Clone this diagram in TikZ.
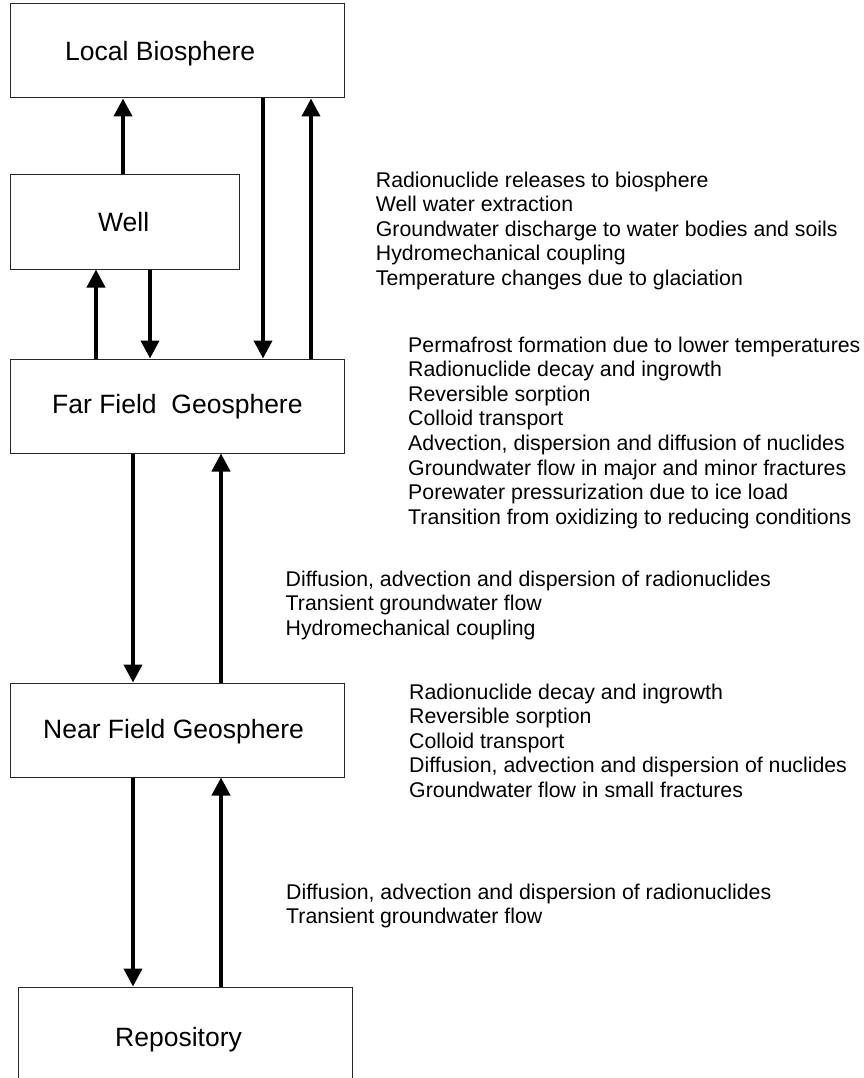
\documentclass[tikz,border=0pt]{standalone}
\usepackage{fontspec}
\setmainfont{Liberation Sans}
\usetikzlibrary{arrows.meta}
\begin{document}
\begin{tikzpicture}[x=1pt,y=-1pt,
  box/.style={draw=black!85, line width=1pt, minimum width=334pt, minimum height=94pt, inner sep=0pt},
  boxlabel/.style={font=\fontsize{26.5}{30}\selectfont, anchor=base west, inner sep=0pt},
  note/.style={font=\fontsize{21.3}{24.6}\selectfont, anchor=base west, inner sep=0pt},
  flow/.style={line width=4pt, -{Triangle[length=18pt,width=18pt]}}]
\useasboundingbox (0,0) rectangle (864,1078);
% boxes
\node[box] (lb) at (177,51) {};
\node[box, minimum width=229pt] (well) at (124.5,222) {};
\node[box] (ff) at (177,406) {};
\node[box] (nf) at (177,730) {};
\node[box] (repo) at (185,1034) {};
% box labels
\node[boxlabel] (lbt) at (65,61) {Local Biosphere};
\node[boxlabel] (wellt) at (98,231.7) {Well};
\node[boxlabel] (fft) at (52,413) {Far Field\ \ Geosphere};
\node[boxlabel] (nft) at (43,738) {Near Field Geosphere};
\node[boxlabel] (repot) at (115,1046) {Repository};
% notes
\node[note] (n1) at (375.7,187) {\begin{tabular}[t]{@{}l@{}}
Radionuclide releases to biosphere\\
Well water extraction\\
Groundwater discharge to water bodies and soils\\
Hydromechanical coupling\\
Temperature changes due to glaciation
\end{tabular}};
\node[note] (n2) at (408,352) {\begin{tabular}[t]{@{}l@{}}
Permafrost formation due to lower temperatures\\
Radionuclide decay and ingrowth\\
Reversible sorption\\
Colloid transport\\
Advection, dispersion and diffusion of nuclides\\
Groundwater flow in major and minor fractures\\
Porewater pressurization due to ice load\\
Transition from oxidizing to reducing conditions
\end{tabular}};
\node[note] (n3) at (285.5,586) {\begin{tabular}[t]{@{}l@{}}
Diffusion, advection and dispersion of radionuclides\\
Transient groundwater flow\\
Hydromechanical coupling
\end{tabular}};
\node[note] (n4) at (409,699) {\begin{tabular}[t]{@{}l@{}}
Radionuclide decay and ingrowth\\
Reversible sorption\\
Colloid transport\\
Diffusion, advection and dispersion of nuclides\\
Groundwater flow in small fractures
\end{tabular}};
\node[note] (n5) at (286,899) {\begin{tabular}[t]{@{}l@{}}
Diffusion, advection and dispersion of radionuclides\\
Transient groundwater flow
\end{tabular}};
% arrows
\draw[flow] ([xshift=-1.5pt]well.north) -- ([xshift=-54pt]lb.south);
\draw[flow] ([xshift=86pt]lb.south) -- ([xshift=86pt]ff.north);
\draw[flow] ([xshift=134pt]ff.north) -- ([xshift=134pt]lb.south);
\draw[flow] ([xshift=-81pt]ff.north) -- ([xshift=-28.5pt]well.south);
\draw[flow] ([xshift=25.5pt]well.south) -- ([xshift=-27pt]ff.north);
\draw[flow] ([xshift=-44pt]ff.south) -- ([xshift=-44pt]nf.north);
\draw[flow] ([xshift=44pt]nf.north) -- ([xshift=44pt]ff.south);
\draw[flow] ([xshift=-44pt]nf.south) -- ([xshift=-52pt]repo.north);
\draw[flow] ([xshift=36pt]repo.north) -- ([xshift=44pt]nf.south);
\end{tikzpicture}
\end{document}
